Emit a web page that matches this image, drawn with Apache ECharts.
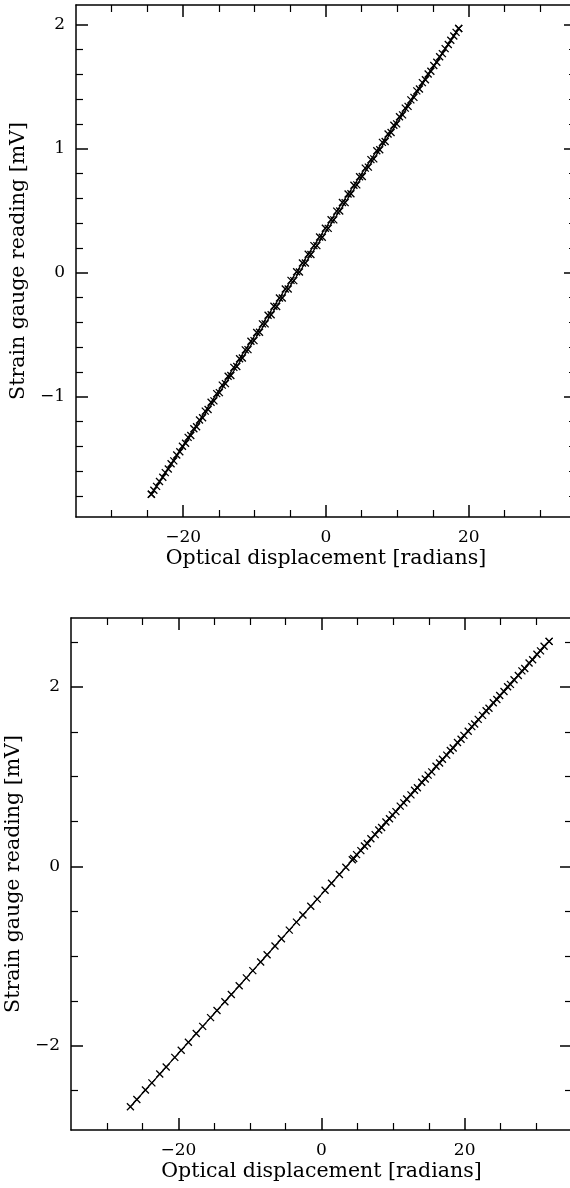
<!DOCTYPE html>
<html>
<head>
<meta charset="utf-8">
<script src="https://cdn.jsdelivr.net/npm/echarts@6/dist/echarts.min.js"></script>
<style>
  html, body { margin: 0; padding: 0; background: #fff; overflow: hidden; }
  #chart { width: 570px; height: 1188px; }
</style>
</head>
<body>
<div id="chart"></div>
<script>
// Upper panel: strain gauge vs optical displacement, rising and falling sweeps
const topUpX = [-24.45, -23.72, -22.85, -22.08, -21.31, -20.47, -19.66, -18.93, -18.12, -17.28,
  -16.51, -15.69, -14.93, -14.08, -13.32, -12.49, -11.71, -10.92, -10.08, -9.31,
  -8.52, -7.68, -6.91, -6.12, -5.29, -4.51, -3.72, -2.89, -2.11, -1.28,
  -0.52, 0.31, 1.09, 1.92, 2.68, 3.49, 4.31, 5.08, 5.93, 6.69,
  7.52, 8.28, 9.11, 9.89, 10.72, 11.49, 12.31, 13.08, 13.92, 14.68,
  15.51, 16.29, 17.12, 17.89, 18.58];
const topUpY = [-1.786, -1.723, -1.649, -1.583, -1.517, -1.444, -1.375, -1.312, -1.242, -1.170,
  -1.103, -1.033, -0.967, -0.894, -0.828, -0.756, -0.688, -0.620, -0.547, -0.480,
  -0.412, -0.339, -0.272, -0.203, -0.131, -0.063, 0.006, 0.079, 0.147, 0.219,
  0.286, 0.358, 0.427, 0.499, 0.566, 0.637, 0.709, 0.777, 0.852, 0.919,
  0.992, 1.059, 1.132, 1.201, 1.274, 1.342, 1.415, 1.483, 1.557, 1.625,
  1.698, 1.768, 1.841, 1.910, 1.971];
const topDownX = [18.58, 18.21, 17.47, 16.68, 15.91, 15.09, 14.30, 13.49, 12.71, 11.88,
  11.10, 10.29, 9.50, 8.69, 7.90, 7.11, 6.29, 5.50, 4.70, 3.91,
  3.09, 2.30, 1.50, 0.71, -0.09, -0.90, -1.69, -2.49, -3.30, -4.11,
  -4.90, -5.70, -6.52, -7.29, -8.11, -8.90, -9.70, -10.51, -11.30, -12.10,
  -12.90, -13.70, -14.52, -15.30, -16.09, -16.90, -17.71, -18.50, -19.30, -20.10,
  -20.90, -21.69, -22.50, -23.31, -24.10, -24.45];
const topDownY = [1.971, 1.939, 1.876, 1.808, 1.742, 1.672, 1.604, 1.534, 1.467, 1.395,
  1.328, 1.258, 1.190, 1.120, 1.052, 0.984, 0.913, 0.844, 0.775, 0.706,
  0.635, 0.567, 0.497, 0.428, 0.359, 0.288, 0.219, 0.150, 0.079, 0.008,
  -0.061, -0.131, -0.203, -0.270, -0.342, -0.412, -0.482, -0.553, -0.622, -0.693,
  -0.763, -0.834, -0.906, -0.975, -1.045, -1.116, -1.188, -1.258, -1.328, -1.399,
  -1.470, -1.540, -1.612, -1.684, -1.754, -1.786];

// Lower panel: full rising sweep, partial return sweep
const botUpX = [-26.7, -25.8, -24.6, -23.7, -22.6, -21.7, -20.5, -19.6, -18.6, -17.5,
  -16.6, -15.5, -14.6, -13.5, -12.6, -11.5, -10.5, -9.6, -8.5, -7.6,
  -6.5, -5.6, -4.5, -3.5, -2.6, -1.5, -0.6, 0.5, 1.4, 2.5,
  3.4, 4.5, 5.5, 6.4, 7.5, 8.4, 9.5, 10.4, 11.5, 12.5,
  13.4, 14.5, 15.4, 16.5, 17.5, 18.4, 19.5, 20.5, 21.4, 22.5,
  23.4, 24.5, 25.5, 26.4, 27.5, 28.4, 29.5, 30.6, 31.8];
const botUpY = [-2.680, -2.600, -2.494, -2.414, -2.316, -2.237, -2.130, -2.050, -1.962, -1.864,
  -1.784, -1.687, -1.607, -1.509, -1.429, -1.332, -1.243, -1.163, -1.066, -0.986,
  -0.888, -0.808, -0.711, -0.622, -0.542, -0.445, -0.365, -0.267, -0.188, -0.090,
  -0.010, 0.087, 0.176, 0.256, 0.354, 0.433, 0.531, 0.611, 0.708, 0.797,
  0.877, 0.974, 1.054, 1.152, 1.241, 1.320, 1.418, 1.507, 1.587, 1.684,
  1.764, 1.861, 1.950, 2.030, 2.128, 2.207, 2.305, 2.403, 2.509];
const botDownX = [31.8, 31.1, 30.1, 29.0, 28.0, 26.9, 26.0, 24.9, 24.0, 23.0,
  21.9, 21.0, 19.9, 19.0, 18.0, 16.9, 16.0, 14.9, 14.0, 13.0,
  11.9, 11.0, 9.9, 9.0, 8.0, 6.9, 6.0, 4.9, 4.3];
const botDownY = [2.509, 2.455, 2.366, 2.269, 2.180, 2.082, 2.003, 1.905, 1.825, 1.736,
  1.639, 1.559, 1.461, 1.382, 1.293, 1.195, 1.116, 1.018, 0.938, 0.849,
  0.752, 0.672, 0.574, 0.495, 0.406, 0.308, 0.228, 0.131, 0.074];

// Axis ranges and tick sets
const xRange = [-35, 35];
const topYRange = [-1.97, 2.16];
const botYRange = [-2.94, 2.77];
const xMajorTicks = [-20, 0, 20];
const xMinorTicks = [-30, -25, -15, -10, -5, 5, 10, 15, 25, 30];
const topYMajorTicks = [-1, 0, 1, 2];
const topYMinorTicks = [-1.8, -1.6, -1.4, -1.2, -0.8, -0.6, -0.4, -0.2, 0.2, 0.4, 0.6, 0.8, 1.2, 1.4, 1.6, 1.8];
const botYMajorTicks = [-2, 0, 2];
const botYMinorTicks = [-2.5, -1.5, -1, -0.5, 0.5, 1, 1.5, 2.5];

const xTitle = 'Optical displacement [radians]';
const yTitle = 'Strain gauge reading [mV]';

const FONT = 'DejaVu Serif';
const INK = '#000';
const zip = (xs, ys) => xs.map((x, i) => [x, ys[i]]);
const fmt = v => (v < 0 ? '\u2212' + Math.abs(v) : String(v));

const frameLine = { onZero: false, lineStyle: { color: INK, width: 1.5 } };
const noLine = { show: false, onZero: false };
const minorTick = vals => ({ inside: true, length: 7, customValues: vals, lineStyle: { color: INK, width: 1.2 } });
const majorTick = vals => ({ inside: true, length: 12, customValues: vals, lineStyle: { color: INK, width: 1.5 } });

function xAxes(g, name, nameGap) {
  const base = { gridIndex: g, type: 'value', min: xRange[0], max: xRange[1],
    splitLine: { show: false } };
  return [
    Object.assign({}, base, {
      position: 'bottom', axisLine: frameLine, axisTick: minorTick(xMinorTicks),
      axisLabel: { customValues: xMajorTicks, formatter: fmt, margin: 12,
        fontFamily: FONT, fontSize: 17, color: INK },
      name: name, nameLocation: 'middle', nameGap: nameGap,
      nameTextStyle: { fontFamily: FONT, fontSize: 20.5, color: INK }
    }),
    Object.assign({}, base, { position: 'bottom', axisLine: noLine,
      axisTick: majorTick(xMajorTicks), axisLabel: { show: false } }),
    Object.assign({}, base, { position: 'top', axisLine: frameLine,
      axisTick: minorTick(xMinorTicks), axisLabel: { show: false } }),
    Object.assign({}, base, { position: 'top', axisLine: noLine,
      axisTick: majorTick(xMajorTicks), axisLabel: { show: false } })
  ];
}

function yAxes(g, range, major, minor, name, nameGap) {
  const base = { gridIndex: g, type: 'value', min: range[0], max: range[1],
    splitLine: { show: false } };
  return [
    Object.assign({}, base, {
      position: 'left', axisLine: frameLine, axisTick: minorTick(minor),
      axisLabel: { customValues: major, formatter: fmt, margin: 11,
        fontFamily: FONT, fontSize: 17, color: INK },
      name: name, nameLocation: 'middle', nameGap: nameGap,
      nameTextStyle: { fontFamily: FONT, fontSize: 20.5, color: INK }
    }),
    Object.assign({}, base, { position: 'left', axisLine: noLine,
      axisTick: majorTick(major), axisLabel: { show: false } }),
    Object.assign({}, base, { position: 'right', axisLine: frameLine,
      axisTick: minorTick(minor), axisLabel: { show: false } }),
    Object.assign({}, base, { position: 'right', axisLine: noLine,
      axisTick: majorTick(major), axisLabel: { show: false } })
  ];
}

const cross = 'path://M0,0L10,10M10,0L0,10';
function sweep(data, xi, yi) {
  return {
    type: 'line', xAxisIndex: xi, yAxisIndex: yi, data: data,
    symbol: cross, symbolSize: 7, showSymbol: true, animation: false,
    lineStyle: { color: INK, width: 1.2 },
    itemStyle: { color: 'none', borderColor: INK, borderWidth: 1.3 },
    emphasis: { disabled: true }
  };
}

const chart = echarts.init(document.getElementById('chart'), null, { renderer: 'canvas' });
chart.setOption({
  backgroundColor: '#fff',
  animation: false,
  grid: [
    { left: 76, top: 5, width: 500, height: 512, outerBoundsMode: 'none' },
    { left: 71, top: 618, width: 501, height: 512, outerBoundsMode: 'none' }
  ],
  xAxis: [].concat(xAxes(0, xTitle, 31), xAxes(1, xTitle, 31)),
  yAxis: [].concat(
    yAxes(0, topYRange, topYMajorTicks, topYMinorTicks, yTitle, 44),
    yAxes(1, botYRange, botYMajorTicks, botYMinorTicks, yTitle, 43)
  ),
  series: [
    sweep(zip(topUpX, topUpY), 0, 0),
    sweep(zip(topDownX, topDownY), 0, 0),
    sweep(zip(botUpX, botUpY), 4, 4),
    sweep(zip(botDownX, botDownY), 4, 4)
  ]
});
</script>
</body>
</html>
